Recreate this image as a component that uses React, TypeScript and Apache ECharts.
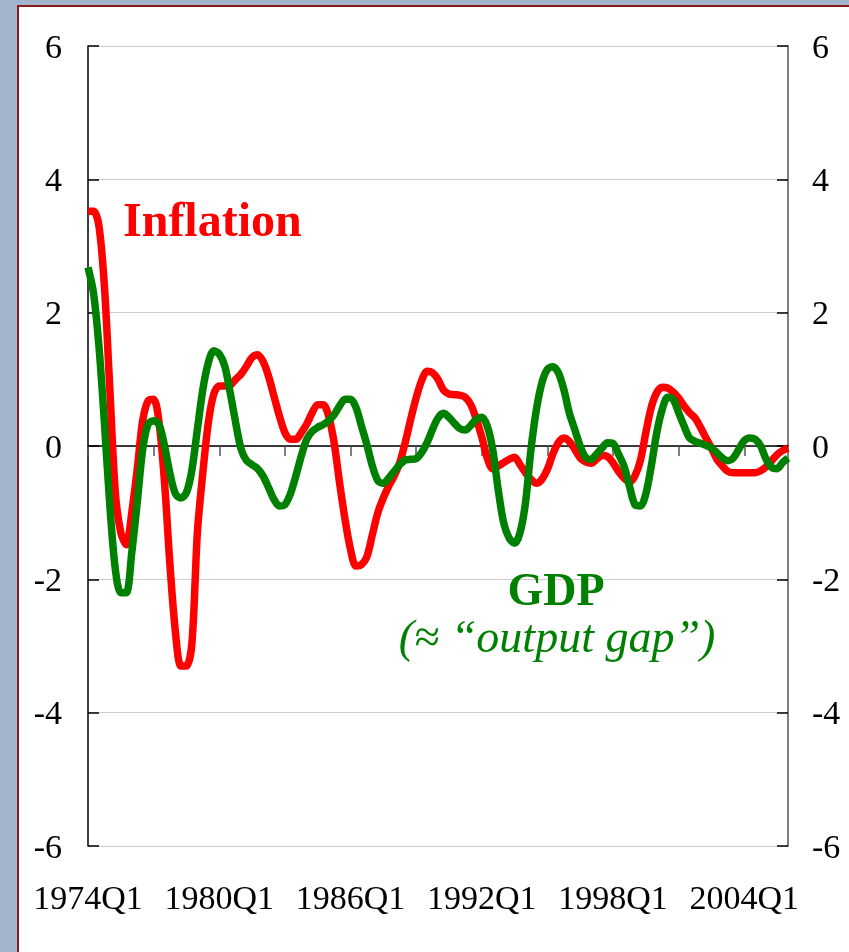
import React, { useEffect, useRef } from "react";
import * as echarts from "echarts";

const START_YEAR = 1974;
const N_QUARTERS = 129;
const quarters: string[] = [];
for (let i = 0; i < N_QUARTERS; i++) {
  quarters.push(`${START_YEAR + Math.floor(i / 4)}Q${(i % 4) + 1}`);
}

const inflation: number[] = [
  3.52, 3.52, 3.3, 2.4, 0.84, -0.7, -1.3, -1.48, -1.0, -0.35,
  0.38, 0.68, 0.7, 0.35, -0.55, -1.8, -2.8, -3.3, -3.3, -2.96,
  -1.3, -0.4, 0.35, 0.78, 0.9, 0.9, 0.91, 1.0, 1.08, 1.2,
  1.33, 1.37, 1.27, 1.05, 0.75, 0.45, 0.2, 0.1, 0.1, 0.2,
  0.33, 0.5, 0.62, 0.62, 0.45, 0.05, -0.55, -1.1, -1.55, -1.8,
  -1.78, -1.66, -1.33, -1.0, -0.78, -0.6, -0.45, -0.25, 0.05, 0.4,
  0.72, 0.98, 1.12, 1.1, 1.0, 0.84, 0.78, 0.77, 0.76, 0.73,
  0.62, 0.4, 0.14, -0.18, -0.34, -0.3, -0.25, -0.2, -0.17, -0.28,
  -0.4, -0.5, -0.56, -0.5, -0.35, -0.12, 0.05, 0.12, 0.07, -0.05,
  -0.18, -0.24, -0.26, -0.2, -0.14, -0.16, -0.25, -0.38, -0.48, -0.54,
  -0.45, -0.22, 0.2, 0.58, 0.8, 0.88, 0.87, 0.81, 0.72, 0.6,
  0.5, 0.42, 0.28, 0.12, -0.03, -0.2, -0.3, -0.38, -0.4, -0.4,
  -0.4, -0.4, -0.4, -0.37, -0.31, -0.22, -0.13, -0.07, -0.03,
];

const gdp: number[] = [
  2.68, 2.3, 1.5, 0.35, -0.9, -1.85, -2.2, -2.2, -1.6, -0.85,
  -0.05, 0.33, 0.38, 0.32, 0.0, -0.42, -0.72, -0.78, -0.7, -0.36,
  0.25, 0.85, 1.25, 1.43, 1.38, 1.2, 0.8, 0.35, -0.05, -0.22,
  -0.28, -0.34, -0.45, -0.62, -0.8, -0.9, -0.88, -0.72, -0.45, -0.15,
  0.1, 0.22, 0.28, 0.32, 0.38, 0.47, 0.6, 0.7, 0.7, 0.58,
  0.3, 0.02, -0.3, -0.52, -0.56, -0.48, -0.38, -0.28, -0.21, -0.2,
  -0.19, -0.1, 0.05, 0.25, 0.42, 0.49, 0.43, 0.34, 0.26, 0.24,
  0.31, 0.4, 0.43, 0.3, -0.05, -0.65, -1.15, -1.38, -1.46, -1.3,
  -0.85, -0.05, 0.55, 0.95, 1.15, 1.19, 1.1, 0.85, 0.5, 0.25,
  0.0, -0.17, -0.2, -0.12, -0.03, 0.05, 0.04, -0.12, -0.3, -0.6,
  -0.88, -0.9, -0.72, -0.3, 0.2, 0.55, 0.73, 0.7, 0.5, 0.3,
  0.12, 0.07, 0.04, 0.01, -0.03, -0.1, -0.18, -0.22, -0.18, -0.05,
  0.08, 0.12, 0.1, 0.0, -0.2, -0.32, -0.34, -0.25, -0.18,
];

const Y_MIN = -6;
const Y_MAX = 6;
const Y_STEP = 2;

const SERIF = "'Liberation Serif', 'Times New Roman', 'DejaVu Serif', serif";
const RED = "#ff0000";
const GREEN = "#008000";

export default function App() {
  const ref = useRef<HTMLDivElement>(null);

  useEffect(() => {
    if (!ref.current) return;
    const chart = echarts.init(ref.current, undefined, { renderer: "svg" });
    const option = {
      animation: false,
      graphic: [
        {
          type: "rect",
          z: -100,
          shape: { x: 0, y: 0, width: 849, height: 952 },
          style: { fill: "#a3b5cc" },
          silent: true,
        },
        {
          type: "rect",
          z: -99,
          shape: { x: 18, y: 6, width: 840, height: 960 },
          style: { fill: "#ffffff", stroke: "#8b1a1a", lineWidth: 2 },
          silent: true,
        },
        {
          type: "text",
          z: 50,
          x: 123,
          y: 219,
          style: {
            text: "Inflation",
            fill: RED,
            font: `bold 48px ${SERIF}`,
            textAlign: "left",
            textVerticalAlign: "middle",
          },
        },
        {
          type: "text",
          z: 50,
          x: 556,
          y: 589,
          style: {
            text: "GDP",
            fill: GREEN,
            font: `bold 46px ${SERIF}`,
            textAlign: "center",
            textVerticalAlign: "middle",
          },
        },
        {
          type: "text",
          z: 50,
          x: 557,
          y: 636,
          style: {
            text: "(\u2248 \u201Coutput gap\u201D)",
            fill: GREEN,
            font: `italic 46px ${SERIF}`,
            textAlign: "center",
            textVerticalAlign: "middle",
          },
        },
      ],
      grid: { left: 88, right: 61, top: 46, bottom: 106, containLabel: false },
      xAxis: [
        {
          type: "category",
          data: quarters,
          boundaryGap: false,
          position: "bottom",
          axisLine: { show: true, onZero: true, lineStyle: { color: "#000", width: 1.5 } },
          axisTick: {
            show: true,
            interval: 11,
            length: 10,
            lineStyle: { color: "#555", width: 1.5 },
          },
          axisLabel: { show: false },
          splitLine: { show: false },
        },
        {
          type: "category",
          data: quarters,
          boundaryGap: false,
          position: "bottom",
          axisLine: { show: false, onZero: false },
          axisTick: { show: false },
          axisLabel: {
            interval: 23,
            margin: 34,
            fontSize: 34,
            color: "#000",
            fontFamily: SERIF,
          },
          splitLine: { show: false },
        },
      ],
      yAxis: [
        {
          type: "value",
          min: Y_MIN,
          max: Y_MAX,
          interval: Y_STEP,
          position: "left",
          axisLine: { show: true, lineStyle: { color: "#000", width: 1.5 } },
          axisTick: { show: true, inside: true, length: 11, lineStyle: { color: "#000", width: 1.5 } },
          axisLabel: { margin: 26, fontSize: 34, color: "#000", fontFamily: SERIF },
          splitLine: { show: true, lineStyle: { color: "#cccccc", width: 1 } },
        },
        {
          type: "value",
          min: Y_MIN,
          max: Y_MAX,
          interval: Y_STEP,
          position: "right",
          axisLine: { show: true, lineStyle: { color: "#808080", width: 2 } },
          axisTick: { show: true, inside: true, length: 11, lineStyle: { color: "#000", width: 1.5 } },
          axisLabel: { margin: 24, fontSize: 34, color: "#000", fontFamily: SERIF },
          splitLine: { show: false },
        },
      ],
      series: [
        {
          name: "Inflation",
          type: "line",
          data: inflation,
          xAxisIndex: 0,
          yAxisIndex: 0,
          smooth: 0.3,
          symbol: "none",
          lineStyle: { color: RED, width: 7.5 },
          z: 3,
        },
        {
          name: "GDP",
          type: "line",
          data: gdp,
          xAxisIndex: 0,
          yAxisIndex: 0,
          smooth: 0.3,
          symbol: "none",
          lineStyle: { color: GREEN, width: 7.5 },
          z: 4,
        },
      ],
    };
    chart.setOption(option as any);
    return () => chart.dispose();
  }, []);

  return (
    <div
      ref={ref}
      style={{ position: "fixed", left: 0, top: 0, width: 849, height: 952 }}
    />
  );
}
